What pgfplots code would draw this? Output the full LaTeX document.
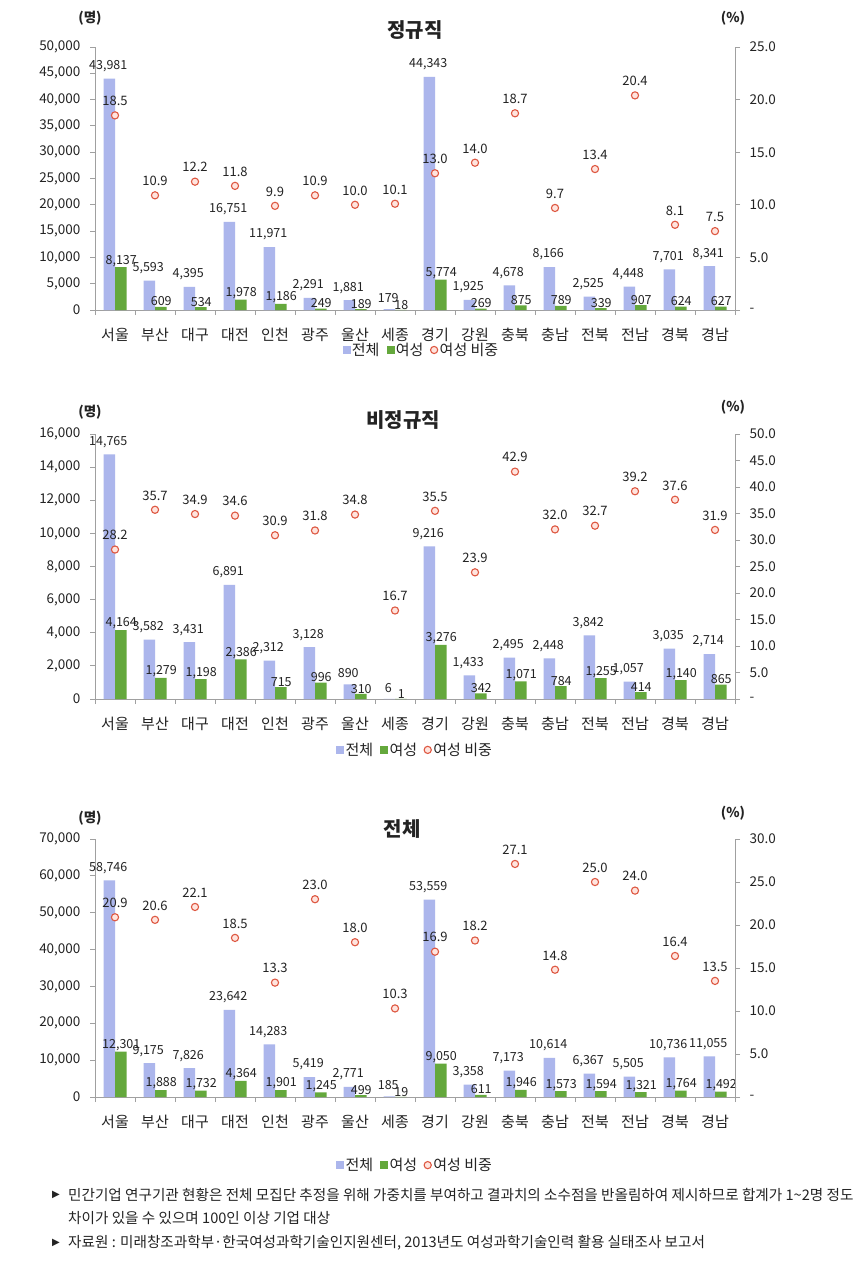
\documentclass[border=0pt]{standalone}
\usepackage{fontspec}
\setmainfont{Noto Sans CJK KR}
\newfontfamily\dejavu{DejaVu Sans}
\usepackage{pgfplots}
\usepackage{pgfplotstable}
\pgfplotsset{compat=1.18}

\definecolor{barblue}{RGB}{172,182,236}
\definecolor{bargreen}{RGB}{100,168,60}
\definecolor{ratred}{RGB}{222,88,66}
\definecolor{ratfill}{RGB}{255,228,222}
\definecolor{axisgray}{RGB}{160,160,160}
\definecolor{txt}{RGB}{35,35,35}

% x total female ratio
\pgfplotstableread{
x total female ratio
0 43981 8137 18.5
1 5593 609 10.9
2 4395 534 12.2
3 16751 1978 11.8
4 11971 1186 9.9
5 2291 249 10.9
6 1881 189 10.0
7 179 18 10.1
8 44343 5774 13.0
9 1925 269 14.0
10 4678 875 18.7
11 8166 789 9.7
12 2525 339 13.4
13 4448 907 20.4
14 7701 624 8.1
15 8341 627 7.5
}\regular

\pgfplotstableread{
x total female ratio
0 14765 4164 28.2
1 3582 1279 35.7
2 3431 1198 34.9
3 6891 2386 34.6
4 2312 715 30.9
5 3128 996 31.8
6 890 310 34.8
7 6 1 16.7
8 9216 3276 35.5
9 1433 342 23.9
10 2495 1071 42.9
11 2448 784 32.0
12 3842 1255 32.7
13 1057 414 39.2
14 3035 1140 37.6
15 2714 865 31.9
}\irregular

\pgfplotstableread{
x total female ratio
0 58746 12301 20.9
1 9175 1888 20.6
2 7826 1732 22.1
3 23642 4364 18.5
4 14283 1901 13.3
5 5419 1245 23.0
6 2771 499 18.0
7 185 19 10.3
8 53559 9050 16.9
9 3358 611 18.2
10 7173 1946 27.1
11 10614 1573 14.8
12 6367 1594 25.0
13 5505 1321 24.0
14 10736 1764 16.4
15 11055 1492 13.5
}\alltotal

\pgfplotsset{
  base/.style={
    scale only axis, width=640pt,
    xmin=-0.5, xmax=15.5, ymin=0,
    axis line style={draw=axisgray, line width=0.9pt},
    tick style={draw=axisgray, line width=0.9pt},
    tick align=outside, major tick length=5pt, minor tick length=5pt,
    tick label style={font=\fontsize{13.5}{14}\selectfont, text=txt},
    /pgf/number format/assume math mode=true,
  },
  barax/.style={
    base, axis y line*=left, axis x line*=bottom,
    ybar=0pt, bar width=11.5pt,
    xtick={0,...,15},
    xticklabels={서울,부산,대구,대전,인천,광주,울산,세종,경기,강원,충북,충남,전북,전남,경북,경남},
    x tick label style={font=\fontsize{15}{16}\selectfont, yshift=-10pt},
    major x tick style={draw=none},
    minor xtick={-0.5,0.5,...,15.5},
    scaled y ticks=false,
    /pgf/number format/1000 sep={,},
    y tick label style={xshift=-6pt},
    nodes near coords,
    nodes near coords style={font=\fontsize{12.5}{13}\selectfont, text=txt, inner sep=1.5pt},
  },
  ratax/.style={
    base, axis y line*=right, axis x line=none,
    xtick=\empty,
    y tick label style={xshift=6pt},
    legend style={draw=none, fill=none, legend columns=3, anchor=center,
      font=\fontsize{15}{16}\selectfont, text=txt,
      /tikz/every even column/.append style={column sep=5pt}},
  },
  bluebar/.style={draw=none, fill=barblue,
    every node near coord/.append style={yshift=5pt, xshift=-1pt}},
  greenbar/.style={draw=none, fill=bargreen,
    every node near coord/.append style={yshift=-1pt, xshift=0.5pt}},
  dots/.style={only marks, mark=*, mark size=3.6pt,
    mark options={draw=ratred, fill=ratfill, line width=1.1pt},
    nodes near coords,
    nodes near coords style={font=\fontsize{13}{14}\selectfont, text=txt, inner sep=4pt, yshift=5pt,
      /pgf/number format/.cd, fixed, precision=1, fixed zerofill}},
}

\newcommand{\legimgs}{%
  \addlegendimage{legend image code/.code={\fill[barblue] (0pt,-3.5pt) rectangle (7pt,3.5pt);}}
  \addlegendentry{전체}
  \addlegendimage{legend image code/.code={\fill[bargreen] (0pt,-3.5pt) rectangle (7pt,3.5pt);}}
  \addlegendentry{여성}
}

\begin{document}
\begin{tikzpicture}
\fill[white] (0,0) rectangle (866pt,-1269pt);
\useasboundingbox (0,0) rectangle (866pt,-1269pt);

% ---- 정규직
\begin{axis}[barax, at={(95pt,-310pt)}, anchor=south west, height=263pt,
  ymax=50000, ytick={0,5000,...,50000}]
\addplot[bluebar] table[x=x,y=total] {\regular};
\addplot[greenbar] table[x=x,y=female] {\regular};
\end{axis}
\begin{axis}[ratax, at={(95pt,-310pt)}, anchor=south west, height=263pt,
  ymax=25, ytick={0,5,...,25}, yticklabels={-,5.0,10.0,15.0,20.0,25.0},
  legend style={at={(0.51,-0.152)}}]
\legimgs
\addplot[dots] table[x=x,y=ratio] {\regular};
\addlegendentry{여성 비중}
\end{axis}

% ---- 비정규직
\begin{axis}[barax, at={(95pt,-699pt)}, anchor=south west, height=265pt,
  ymax=16000, ytick={0,2000,...,16000}]
\addplot[bluebar] table[x=x,y=total] {\irregular};
\addplot[greenbar] table[x=x,y=female] {\irregular};
\end{axis}
\begin{axis}[ratax, at={(95pt,-699pt)}, anchor=south west, height=265pt,
  ymax=50, ytick={0,5,...,50}, yticklabels={-,5.0,10.0,15.0,20.0,25.0,30.0,35.0,40.0,45.0,50.0},
  legend style={at={(0.5,-0.192)}}]
\legimgs
\addplot[dots] table[x=x,y=ratio] {\irregular};
\addlegendentry{여성 비중}
\end{axis}

% ---- 전체
\begin{axis}[barax, at={(95pt,-1097pt)}, anchor=south west, height=258pt,
  ymax=70000, ytick={0,10000,...,70000}]
\addplot[bluebar] table[x=x,y=total] {\alltotal};
\addplot[greenbar] table[x=x,y=female] {\alltotal};
\end{axis}
\begin{axis}[ratax, at={(95pt,-1097pt)}, anchor=south west, height=258pt,
  ymax=30, ytick={0,5,...,30}, yticklabels={-,5.0,10.0,15.0,20.0,25.0,30.0},
  legend style={at={(0.5,-0.264)}}]
\legimgs
\addplot[dots] table[x=x,y=ratio] {\alltotal};
\addlegendentry{여성 비중}
\end{axis}

% titles and units
\begin{scope}[every node/.style={text=txt}]
\node[font=\fontsize{20}{21}\selectfont\bfseries] at (415pt,-30pt) {정규직};
\node[font=\fontsize{20}{21}\selectfont\bfseries] at (403pt,-420pt) {비정규직};
\node[font=\fontsize{20}{21}\selectfont\bfseries] at (402pt,-829pt) {전체};
\node[font=\fontsize{13.5}{14}\selectfont\bfseries] at (90pt,-18pt) {(명)};
\node[font=\fontsize{13.5}{14}\selectfont\bfseries] at (90pt,-412pt) {(명)};
\node[font=\fontsize{13.5}{14}\selectfont\bfseries] at (90pt,-818pt) {(명)};
\node[font=\fontsize{13.5}{14}\selectfont\bfseries] at (733pt,-18pt) {(\%)};
\node[font=\fontsize{13.5}{14}\selectfont\bfseries] at (733pt,-407pt) {(\%)};
\node[font=\fontsize{13.5}{14}\selectfont\bfseries] at (733pt,-813pt) {(\%)};
\end{scope}

% notes
\begin{scope}[every node/.style={anchor=west, inner sep=0pt, text=txt, font=\fontsize{14.6}{15}\selectfont}]
\node at (52pt,-1195pt) {{\dejavu\fontsize{10}{10}\selectfont ▶}};
\node at (68pt,-1195pt) {민간기업 연구기관 현황은 전체 모집단 추정을 위해 가중치를 부여하고 결과치의 소수점을 반올림하여 제시하므로 합계가 1\textasciitilde 2명 정도};
\node at (68pt,-1218pt) {차이가 있을 수 있으며 100인 이상 기업 대상};
\node at (52pt,-1243pt) {{\dejavu\fontsize{10}{10}\selectfont ▶}};
\node at (68pt,-1243pt) {자료원 : 미래창조과학부·한국여성과학기술인지원센터, 2013년도 여성과학기술인력 활용 실태조사 보고서};
\end{scope}
\end{tikzpicture}
\end{document}
